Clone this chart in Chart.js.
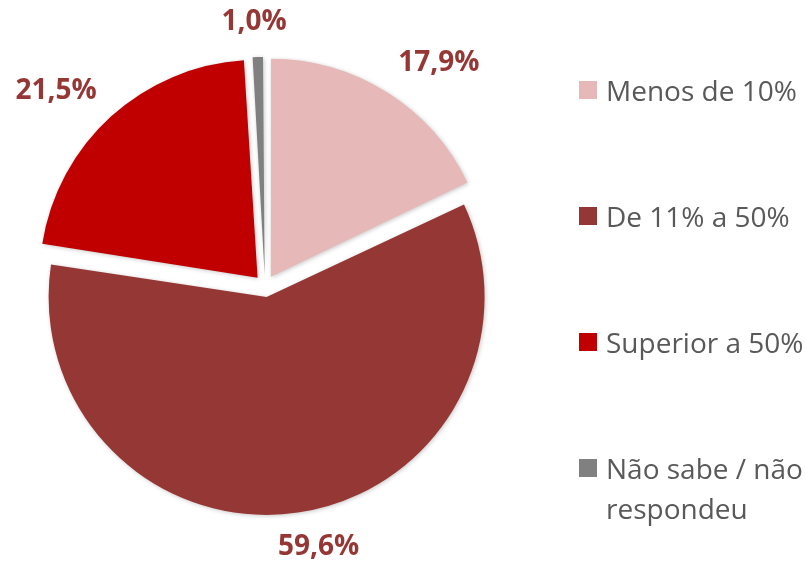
<!DOCTYPE html>
<html>
<head>
<meta charset="utf-8">
<script src="https://cdn.jsdelivr.net/npm/chart.js@4/dist/chart.umd.min.js"></script>
<style>
  html, body { margin: 0; padding: 0; background: #fff; overflow: hidden; }
  #wrap { position: relative; width: 805px; height: 561px; overflow: hidden; }
  #legend { position: absolute; left: 579px; top: 70px; width: 245px;
            font-family: "Open Sans", sans-serif; font-size: 28px; color: #595959; }
  .item { position: relative; height: 126px; padding-left: 27px; line-height: 40px; }
  .box { position: absolute; left: 0; top: 11px; width: 18px; height: 18px; }
</style>
</head>
<body>
<div id="wrap">
  <canvas id="pieChart"></canvas>
  <div id="legend"></div>
</div>
<script>
var categories = ['Menos de 10%', 'De 11% a 50%', 'Superior a 50%', 'Não sabe / não respondeu'];
var shares = [17.9, 59.6, 21.5, 1.0];
var sliceColors = ['#E6B8B7', '#953735', '#C00000', '#808080'];
var labelColor = '#953735';

// legenda em HTML, ao lado do gráfico
var legendEl = document.getElementById('legend');
categories.forEach(function (name, i) {
    var item = document.createElement('div');
    item.className = 'item';
    var box = document.createElement('span');
    box.className = 'box';
    box.style.background = sliceColors[i];
    item.appendChild(box);
    item.appendChild(document.createTextNode(name));
    legendEl.appendChild(item);
});

// sombra nas fatias; e o Chart.js aumenta o raio das fatias grandes/pequenas
// ao deslocá-las, por isso compensamos para todas ficarem com o mesmo raio
var sliceShadow = {
    id: 'sliceShadow',
    beforeDatasetsDraw: function (chart) {
        var ctx = chart.ctx;
        chart.getDatasetMeta(0).data.forEach(function (arc) {
            var circ = arc.endAngle - arc.startAngle;
            var fix = 1 - Math.sin(Math.min(Math.PI, circ));
            arc._baseRadius = arc.outerRadius;
            arc.outerRadius = arc.outerRadius - arc.options.offset / 4 * fix;
        });
        ctx.save();
        ctx.shadowColor = 'rgba(0,0,0,0.22)';
        ctx.shadowBlur = 4;
        ctx.shadowOffsetX = 1;
        ctx.shadowOffsetY = 1;
    },
    afterDatasetsDraw: function (chart) {
        chart.ctx.restore();
        chart.getDatasetMeta(0).data.forEach(function (arc) {
            arc.outerRadius = arc._baseRadius;
        });
    }
};

// rótulos de percentagem fora das fatias
var outsideLabels = {
    id: 'outsideLabels',
    afterDatasetsDraw: function (chart) {
        var ctx = chart.ctx;
        var meta = chart.getDatasetMeta(0);
        ctx.save();
        ctx.font = 'bold 28px "Open Sans"';
        ctx.fillStyle = labelColor;
        ctx.textAlign = 'center';
        ctx.textBaseline = 'middle';
        meta.data.forEach(function (arc, i) {
            var p = arc.getProps(['x', 'y', 'startAngle', 'endAngle', 'outerRadius'], true);
            var mid = (p.startAngle + p.endAngle) / 2;
            // o Chart.js desloca a fatia em offset/4
            var r = p.outerRadius + arc.options.offset / 4 + 21;
            var cos = Math.cos(mid), sin = Math.sin(mid);
            var text = shares[i].toFixed(1).replace('.', ',') + '%';
            var w = ctx.measureText(text).width, h = 28;
            var x = p.x + cos * r + w / 2 * Math.max(-1, Math.min(1, cos * 3));
            var y = p.y + sin * r + h / 2 * sin;
            ctx.fillText(text, x, y);
        });
        ctx.restore();
    }
};

var ctx = document.getElementById('pieChart').getContext('2d');
var pieChart = new Chart(ctx, {
    type: 'pie',
    data: {
        labels: categories,
        datasets: [{
            data: shares,
            backgroundColor: sliceColors,
            borderWidth: 0,
            offset: 44
        }]
    },
    options: {
        responsive: true,
        maintainAspectRatio: false,
        animation: false,
        layout: { padding: { left: 25, top: 46, right: 300, bottom: 35 } },
        plugins: {
            legend: { display: false },
            tooltip: { enabled: false }
        }
    },
    plugins: [sliceShadow, outsideLabels]
});
</script>
</body>
</html>
